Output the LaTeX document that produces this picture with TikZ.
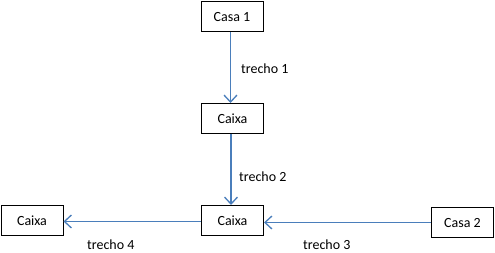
\documentclass[tikz,border=0pt]{standalone}
\usepackage{fontspec}
\setmainfont{Carlito}
\usetikzlibrary{arrows.meta}
\definecolor{linkblue}{HTML}{4A7EBB}
\tikzset{
  box/.style={draw=black, line width=1pt, minimum width=62pt, minimum height=30pt, inner sep=0pt, font=\fontsize{14}{16}\selectfont},
  lbl/.style={anchor=west, inner sep=0pt, font=\fontsize{14}{16}\selectfont},
  link/.style={draw=linkblue, line width=1.3pt, -{Straight Barb[length=7pt,width=13pt,line width=1.3pt]}}
}
\begin{document}
\begin{tikzpicture}[x=1pt,y=-1pt]
\useasboundingbox (0,0) rectangle (495,253);
\node[box] (c1) at (232,17) {Casa 1};
\node[box] (m) at (232.5,118.5) {Caixa};
\node[box] (b) at (232.5,220.5) {Caixa};
\node[box] (l) at (32,221) {Caixa};
\node[box] (c2) at (462.5,223) {Casa 2};
\draw[link] (c1.south) ++(-1.5,0) coordinate (c1s) -- (c1s |- m.north);
\draw[link] (m.south) ++(-1.5,0) coordinate (ms) -- (ms |- b.north);
\draw[link] (c2.west) ++(0,-0.5) coordinate (c2w) -- (c2w -| b.east);
\draw[link] (b.west) ++(0,1) coordinate (bw) -- (bw -| l.east);
\node[lbl] (t1) at (241,69) {trecho 1};
\node[lbl] (t2) at (239,177) {trecho 2};
\node[lbl] (t3) at (303,245) {trecho 3};
\node[lbl] (t4) at (87,245) {trecho 4};
\end{tikzpicture}
\end{document}
